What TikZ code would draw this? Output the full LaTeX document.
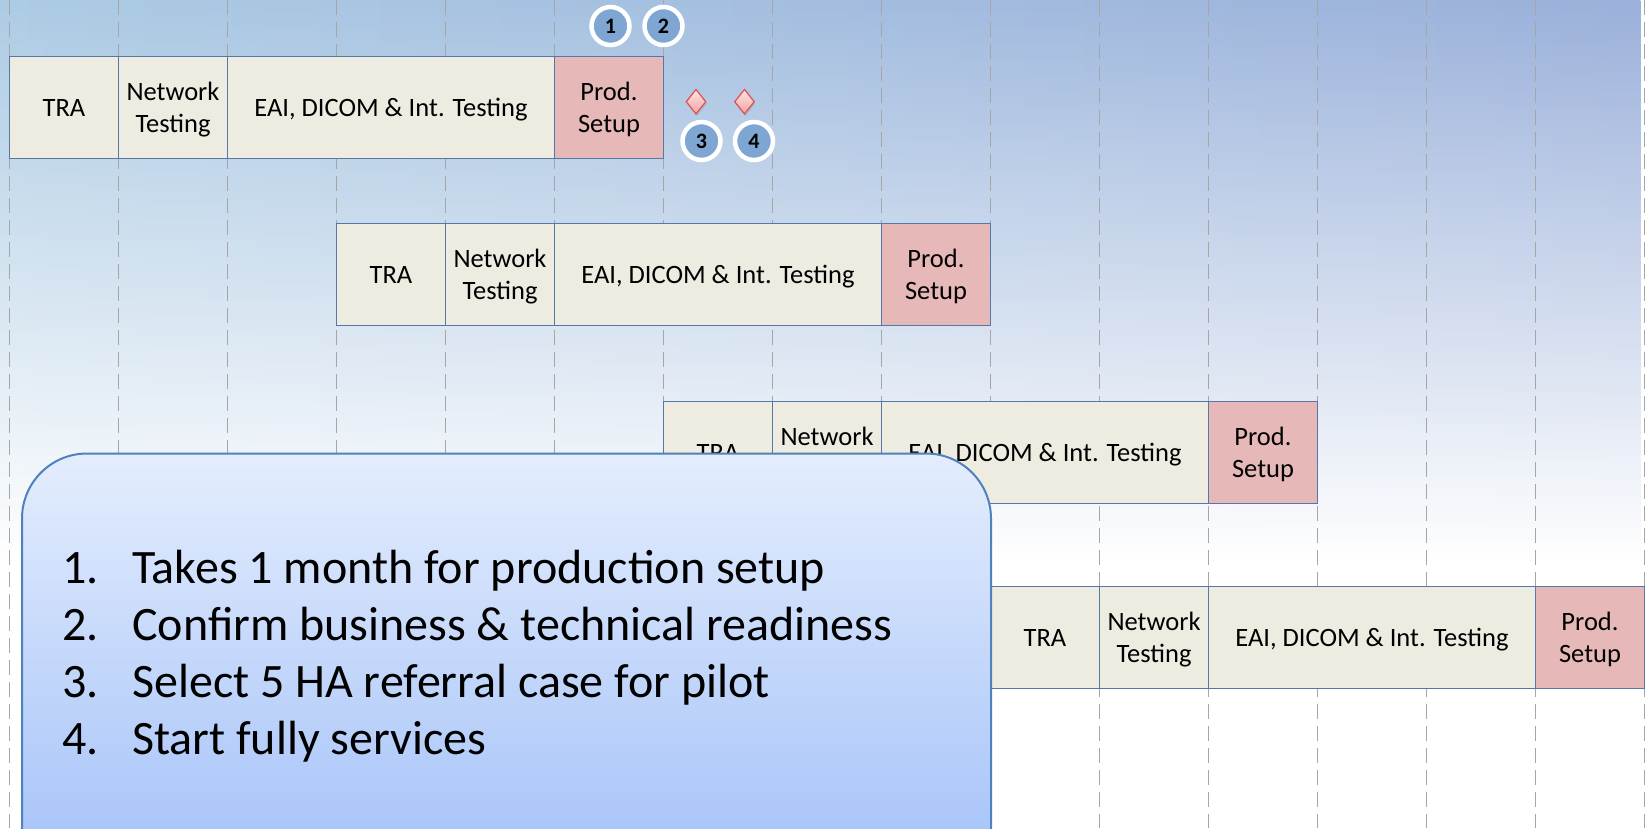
\documentclass[tikz,border=0pt]{standalone}
\usepackage{fontspec}
\setmainfont{Carlito}
\usetikzlibrary{shapes.geometric,fadings,shadows}
\definecolor{bgleft}{HTML}{A9C9E3}
\definecolor{bgmid}{HTML}{B9DCEE}
\definecolor{bgright}{HTML}{97ADD9}
\definecolor{gridgray}{HTML}{A6A6A6}
\definecolor{barline}{HTML}{5777A8}
\definecolor{barfill}{HTML}{EEEBE0}
\definecolor{prodfill}{HTML}{E6B8B7}
\definecolor{dotblue}{HTML}{7FA6D3}
\definecolor{noteline}{HTML}{4F81BD}
\definecolor{notetop}{HTML}{E4EDFD}
\definecolor{notebot}{HTML}{A0BFF8}
\definecolor{gemline}{HTML}{D9534F}
\definecolor{gemtop}{HTML}{FDE4E4}
\definecolor{gembot}{HTML}{F3A3A3}
\begin{document}
\begin{tikzpicture}[x=1pt,y=-1pt,
    gridline/.style={gridgray,line width=1.6pt,dash pattern=on 15pt off 7pt},
    bar/.style={draw=barline,fill=barfill,line width=1.2pt,minimum height=102pt,inner sep=0pt,outer sep=0pt,
      anchor=north west,align=center,text depth=0pt,font=\fontsize{26.5}{32}\selectfont},
    prod/.style={bar,fill=prodfill},
    numdot/.style={circle,fill=dotblue,draw=white,line width=4.5pt,minimum size=38pt,inner sep=0pt,
      font=\bfseries\fontsize{22}{22}\selectfont},
    gem/.style={diamond,draw=gemline,top color=gemtop,bottom color=gembot,line width=1.2pt,
      minimum width=20pt,minimum height=25pt,inner sep=0pt,
      drop shadow={opacity=0.25,shadow xshift=1pt,shadow yshift=-2pt}},
    notebox/.style={draw=noteline,line width=2pt,top color=notetop,bottom color=notebot,
      rounded corners=65pt,minimum width=969pt,minimum height=440pt,anchor=north west},
    item/.style={anchor=base west,inner sep=0pt,font=\fontsize{48}{57}\selectfont}]
    \path[use as bounding box,clip] (0,0) rectangle (1646,828);
    \fill[white] (0,0) rectangle (1646,828);
    \shade[left color=bgleft,middle color=bgmid,right color=bgright,path fading=south] (0,-20) rectangle (1646,560);
    \foreach \i in {0,...,15}
        \draw[gridline] (9.5+109*\i,0) -- (9.5+109*\i,828);
    % rows
    \foreach \r/\c/\y in {1/0/56.7,2/3/223.5,3/6/401.7,4/9/586.7}{
        \node[bar,minimum width=109pt] (tra\r) at (9.5+109*\c,\y) {TRA};
        \node[bar,minimum width=109pt] (net\r) at (tra\r.north east) {Network\\Testing};
        \node[bar,minimum width=327pt] (eai\r) at (net\r.north east) {EAI, DICOM \& Int. Testing};
        \node[prod,minimum width=109pt] (prod\r) at (eai\r.north east) {Prod.\\Setup};
    }
    \node[numdot] (n1) at (610.5,26) {1};
    \node[numdot] (n2) at (663.5,26) {2};
    \node[gem] (g3) at (696,101.7) {};
    \node[gem] (g4) at (744.5,101.7) {};
    \node[numdot] (n3) at (701.5,141) {3};
    \node[numdot] (n4) at (754,141) {4};
    \node[notebox] (notes) at (21,452.5) {};
    \foreach \n/\t in {1/Takes 1 month for production setup,2/Confirm business \& technical readiness,
        3/Select 5 HA referral case for pilot,4/Start fully services}
        \node[item] (item\n) at (62,583.3+57*\n-57) {\makebox[70pt][l]{\n.}\t};
\end{tikzpicture}
\end{document}
